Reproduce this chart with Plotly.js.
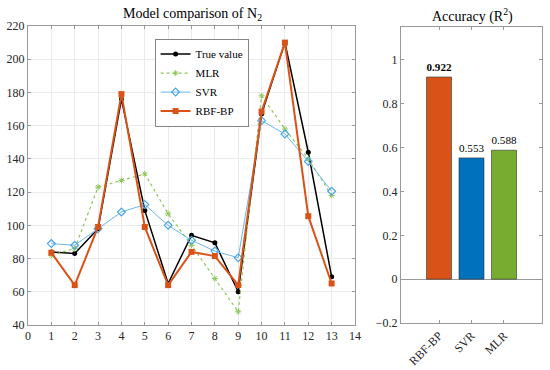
<!DOCTYPE html>
<html><head><meta charset="utf-8">
<script src="https://cdn.plot.ly/plotly-3.0.1.min.js"></script>
<style>body{margin:0;background:#fff}#c{width:550px;height:370px}</style>
</head><body><div id="c"></div>
<script>
const samples = [1,2,3,4,5,6,7,8,9,10,11,12,13];
const trueVal = [84,83,98,176,109,65,94,89.5,60,167,210,144,69];
const mlr     = [82,86,123,127,131,107,88,68,48,178,158,140,118];
const svr     = [89,88,98,108,112.5,100,91,84.5,80.5,163,155,138.5,120.5];
const rbfbp   = [83.5,64,99,179,99,64,84,81.5,64,168.5,210,105.5,65];
const models  = ['RBF-BP','SVR','MLR'];
const accuracy = [0.922,0.553,0.588];
const xTicks = [0,1,2,3,4,5,6,7,8,9,10,11,12,13,14];

const FAM = 'Liberation Serif';
const font = {family:FAM, size:12, color:'#262626'};
const traces = [
 {x:samples,y:trueVal,name:'True value',mode:'lines+markers',line:{color:'#000',width:1.5},marker:{symbol:'circle',size:5,color:'#000'}},
 {x:samples,y:mlr,name:'MLR',mode:'lines+markers',line:{color:'#8fc85a',width:1.2,dash:'dot'},marker:{symbol:'asterisk-open',size:5,color:'#8fc85a',line:{color:'#8fc85a',width:1}}},
 {x:samples,y:svr,name:'SVR',mode:'lines+markers',line:{color:'#6cb8ec',width:1},marker:{symbol:'diamond-open',size:6,color:'#4aa6e6',line:{width:1.2}}},
 {x:samples,y:rbfbp,name:'RBF-BP',mode:'lines+markers',line:{color:'#D95319',width:2},marker:{symbol:'square',size:6,color:'#D95319'}},
 {x:[1,2,3],y:accuracy,type:'bar',xaxis:'x2',yaxis:'y2',showlegend:false,width:0.77,
  marker:{color:['#D95319','#0072BD','#77AC30'],line:{color:'#333',width:0.6}},
  text:accuracy.map((v,i)=>i===0?'<b>'+v.toFixed(3)+'</b>':v.toFixed(3)),textposition:'outside',cliponaxis:false,
  textfont:{family:FAM,size:12,color:'#000'},hoverinfo:'skip'}
];
const axBase = {showline:true,linecolor:'#999',linewidth:1,mirror:'ticks',ticks:'inside',ticklen:3,tickcolor:'#999',tickfont:font,zeroline:false};
const layout = {
 width:550,height:370,margin:{l:0,r:0,t:0,b:0},paper_bgcolor:'#fff',plot_bgcolor:'#fff',font:font,
 xaxis:Object.assign({},axBase,{domain:[28/550,355/550],range:[0,14],tickvals:xTicks,showgrid:true,gridcolor:'#ebebeb'}),
 yaxis:Object.assign({},axBase,{domain:[1-325/370,1-26/370],range:[40,220],dtick:20,showgrid:true,gridcolor:'#ebebeb'}),
 xaxis2:Object.assign({},axBase,{domain:[401/550,542/550],anchor:'y2',range:[-0.17,4.17],tickvals:[1,2,3],ticktext:models,tickangle:-45,showgrid:false}),
 yaxis2:Object.assign({},axBase,{domain:[1-323/370,1-27/370],anchor:'x2',range:[-0.2,1.15],tickvals:[-0.2,0,0.2,0.4,0.6,0.8,1],ticktext:['\u22120.2','0','0.2','0.4','0.6','0.8','1'],showgrid:false,zeroline:true,zerolinecolor:'#999',zerolinewidth:1}),
 legend:{x:155/550,y:1-39/370,xanchor:'left',yanchor:'top',bordercolor:'#333',borderwidth:0.6,bgcolor:'#fff',font:{family:FAM,size:11,color:'#000'},tracegroupgap:0,itemwidth:30},
 annotations:[
  {text:'Model comparison of N<sub>2</sub>',x:192/550,y:1-14/370,xref:'paper',yref:'paper',xanchor:'center',yanchor:'middle',showarrow:false,font:{family:FAM,size:14,color:'#000'}},
  {text:'Accuracy (R<sup>2</sup>)',x:472/550,y:1-15/370,xref:'paper',yref:'paper',xanchor:'center',yanchor:'middle',showarrow:false,font:{family:FAM,size:14,color:'#000'}}
 ],
 showlegend:true
};
Plotly.newPlot('c',traces,layout,{staticPlot:true});
</script></body></html>
